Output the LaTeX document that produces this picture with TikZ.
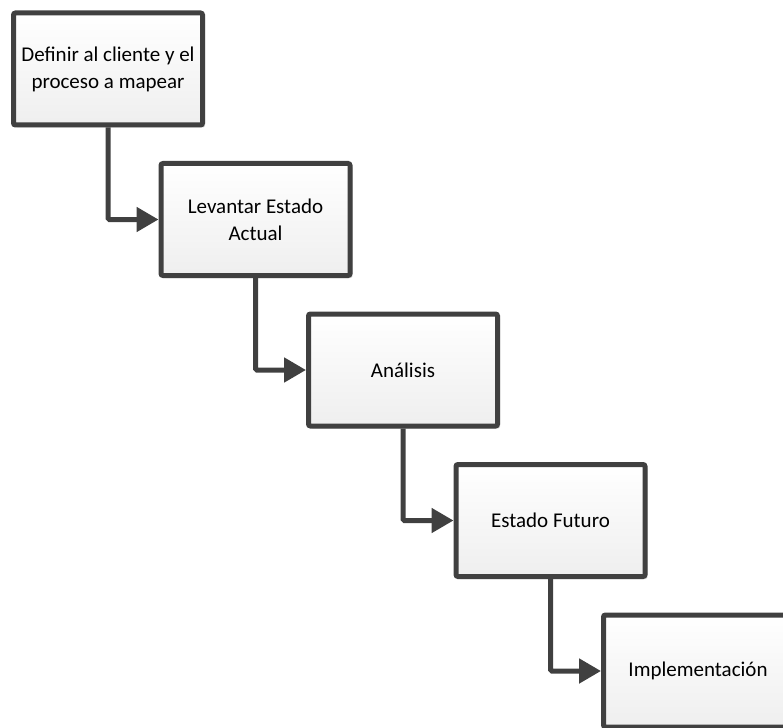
\documentclass[tikz,border=0pt]{standalone}
\usepackage{fontspec}
\setmainfont{Carlito}
\usetikzlibrary{arrows.meta,shadows}
\definecolor{edgegray}{HTML}{404040}

\begin{document}
\begin{tikzpicture}[x=1pt,y=-1pt,
  stepbox/.style={draw=edgegray, line width=5pt, rounded corners=2pt,
    top color=white, bottom color=gray!13,
    drop shadow={shadow xshift=2.5pt, shadow yshift=-2.5pt, opacity=0.25, fill=black!60},
    minimum width=189pt, minimum height=112pt, align=center,
    font=\fontsize{21}{27}\selectfont},
  flow/.style={draw=edgegray, line width=5pt, rounded corners=1.5pt,
    -{Triangle[length=22pt,width=24pt]}}]
%horizontal and vertical step between boxes
\newcommand*{\StepX}{147.5}
\newcommand*{\StepY}{150.5}
\useasboundingbox (0,0) rectangle (783,727);
%boxes
\node[stepbox] (cliente) at (108,69) {Definir al cliente y el\\proceso a mapear};
\node[stepbox] (actual) at (108+\StepX,69+\StepY) {Levantar Estado\\Actual};
\node[stepbox] (analisis) at (108+2*\StepX,69+2*\StepY) {Análisis};
\node[stepbox] (futuro) at (108+3*\StepX,69+3*\StepY) {Estado Futuro};
\node[stepbox] (impl) at (108+4*\StepX,69+4*\StepY) {Implementación};
%arrows
\draw[flow] (cliente.south) |- (actual.west);
\draw[flow] (actual.south) |- (analisis.west);
\draw[flow] (analisis.south) |- (futuro.west);
\draw[flow] (futuro.south) |- (impl.west);
\end{tikzpicture}
\end{document}
